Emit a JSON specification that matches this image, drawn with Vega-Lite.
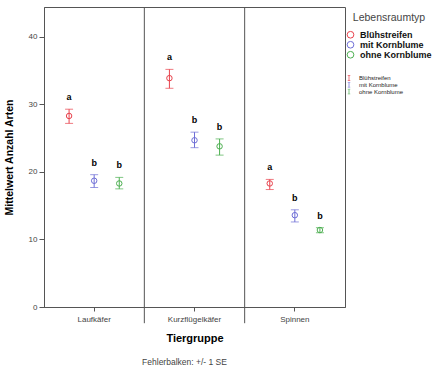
{
  "$schema": "https://vega.github.io/schema/vega-lite/v6.json",
  "autosize": {"type": "none"},
  "width": 301,
  "height": 300,
  "padding": {"left": 44, "top": 7, "right": 92, "bottom": 62},
  "background": "white",
  "config": {
    "font": "Liberation Sans",
    "view": {"stroke": "#555", "strokeWidth": 1}
  },
  "title": {
    "text": "Fehlerbalken: +/- 1 SE",
    "orient": "bottom",
    "anchor": "start",
    "dx": 138,
    "offset": 15,
    "fontSize": 8.5,
    "fontWeight": "normal",
    "color": "#444"
  },
  "data": {
    "values": [
      {"Tiergruppe": "Laufkäfer", "Lebensraumtyp": "Blühstreifen", "mean": 28.3, "lower": 27.2, "upper": 29.3, "letter": "a"},
      {"Tiergruppe": "Laufkäfer", "Lebensraumtyp": "mit Kornblume", "mean": 18.7, "lower": 17.7, "upper": 19.6, "letter": "b"},
      {"Tiergruppe": "Laufkäfer", "Lebensraumtyp": "ohne Kornblume", "mean": 18.3, "lower": 17.5, "upper": 19.2, "letter": "b"},
      {"Tiergruppe": "Kurzflügelkäfer", "Lebensraumtyp": "Blühstreifen", "mean": 33.9, "lower": 32.4, "upper": 35.2, "letter": "a"},
      {"Tiergruppe": "Kurzflügelkäfer", "Lebensraumtyp": "mit Kornblume", "mean": 24.7, "lower": 23.6, "upper": 25.9, "letter": "b"},
      {"Tiergruppe": "Kurzflügelkäfer", "Lebensraumtyp": "ohne Kornblume", "mean": 23.8, "lower": 22.5, "upper": 24.9, "letter": "b"},
      {"Tiergruppe": "Spinnen", "Lebensraumtyp": "Blühstreifen", "mean": 18.3, "lower": 17.4, "upper": 18.9, "letter": "a"},
      {"Tiergruppe": "Spinnen", "Lebensraumtyp": "mit Kornblume", "mean": 13.6, "lower": 12.6, "upper": 14.4, "letter": "b"},
      {"Tiergruppe": "Spinnen", "Lebensraumtyp": "ohne Kornblume", "mean": 11.4, "lower": 11.0, "upper": 11.75, "letter": "b"}
    ]
  },
  "encoding": {
    "x": {
      "field": "Tiergruppe",
      "type": "nominal",
      "sort": ["Laufkäfer", "Kurzflügelkäfer", "Spinnen"],
      "scale": {"paddingInner": 0, "paddingOuter": 0},
      "axis": {
        "title": "Tiergruppe",
        "titleFontSize": 11,
        "titleFontWeight": "bold",
        "titleColor": "#000",
        "titlePadding": 9,
        "labelFontSize": 8,
        "labelColor": "#444",
        "labelAngle": 0,
        "labelPadding": 4,
        "tickSize": 4,
        "tickColor": "#555",
        "domainColor": "#555",
        "grid": false
      }
    }
  },
  "layer": [
    {
      "data": {"values": [{"Tiergruppe": "Kurzflügelkäfer"}, {"Tiergruppe": "Spinnen"}]},
      "mark": {"type": "rule", "color": "#555", "strokeWidth": 1},
      "encoding": {
        "x": {"field": "Tiergruppe", "type": "nominal", "bandPosition": 0, "sort": ["Laufkäfer", "Kurzflügelkäfer", "Spinnen"]},
        "y": {"datum": -2.4, "type": "quantitative"},
        "y2": {"datum": 44.44}
      }
    },
    {
      "mark": {"type": "rule", "strokeWidth": 1},
      "encoding": {
        "xOffset": {"field": "Lebensraumtyp", "type": "nominal", "scale": {"type": "point", "padding": 1}},
        "y": {
          "field": "lower",
          "type": "quantitative",
          "scale": {"domain": [0, 44.44], "nice": false},
          "axis": {
            "title": "Mittelwert Anzahl Arten",
            "titleFontSize": 10.5,
            "titleFontWeight": "bold",
            "titleColor": "#000",
            "titlePadding": 14,
            "values": [0, 10, 20, 30, 40],
            "labelFontSize": 8,
            "labelColor": "#444",
            "labelPadding": 2,
            "tickSize": 5,
            "tickColor": "#555",
            "domainColor": "#555",
            "grid": false
          }
        },
        "y2": {"field": "upper"},
        "color": {
          "field": "Lebensraumtyp",
          "type": "nominal",
          "scale": {"domain": ["Blühstreifen", "mit Kornblume", "ohne Kornblume"], "range": ["#e8424c", "#6e6ed6", "#4caf50"]},
          "legend": {
            "orient": "none",
            "legendX": 302,
            "legendY": 68,
            "title": null,
            "padding": 0,
            "labelFontSize": 6,
            "labelColor": "#222",
            "labelOffset": 7,
            "symbolType": "M-0.5,-1H0.5M0,-1V1M-0.5,1H0.5",
            "symbolSize": 25,
            "symbolStrokeWidth": 1,
            "clipHeight": 6,
            "rowPadding": 0.8
          }
        }
      }
    },
    {
      "mark": {"type": "tick", "orient": "horizontal", "size": 8, "thickness": 1},
      "encoding": {
        "xOffset": {"field": "Lebensraumtyp", "type": "nominal", "scale": {"type": "point", "padding": 1}},
        "y": {"field": "upper", "type": "quantitative"},
        "color": {"field": "Lebensraumtyp", "type": "nominal"}
      }
    },
    {
      "mark": {"type": "tick", "orient": "horizontal", "size": 8, "thickness": 1},
      "encoding": {
        "xOffset": {"field": "Lebensraumtyp", "type": "nominal", "scale": {"type": "point", "padding": 1}},
        "y": {"field": "lower", "type": "quantitative"},
        "color": {"field": "Lebensraumtyp", "type": "nominal"}
      }
    },
    {
      "mark": {"type": "point", "filled": false, "size": 30, "strokeWidth": 1, "opacity": 1},
      "encoding": {
        "xOffset": {"field": "Lebensraumtyp", "type": "nominal", "scale": {"type": "point", "padding": 1}},
        "y": {"field": "mean", "type": "quantitative"},
        "stroke": {
          "field": "Lebensraumtyp",
          "type": "nominal",
          "title": "Lebensraumtyp",
          "scale": {"range": ["#e8424c", "#6e6ed6", "#4caf50"]},
          "legend": {
            "orient": "none",
            "legendX": 302,
            "legendY": 6,
            "padding": 0,
            "titleFontSize": 10.5,
            "titleFontWeight": "normal",
            "titleColor": "#444",
            "titleAnchor": "middle",
            "titlePadding": 7,
            "labelFontSize": 9,
            "labelFontWeight": "bold",
            "labelColor": "#111",
            "labelOffset": 5,
            "symbolType": "circle",
            "symbolSize": 45,
            "symbolStrokeWidth": 1,
            "symbolFillColor": "transparent",
            "clipHeight": 8.5,
            "rowPadding": 0
          }
        }
      }
    },
    {
      "mark": {"type": "text", "fontWeight": "bold", "fontSize": 9, "color": "#000", "dy": -12, "baseline": "middle"},
      "encoding": {
        "xOffset": {"field": "Lebensraumtyp", "type": "nominal", "scale": {"type": "point", "padding": 1}},
        "y": {"field": "upper", "type": "quantitative"},
        "text": {"field": "letter", "type": "nominal"}
      }
    }
  ]
}
